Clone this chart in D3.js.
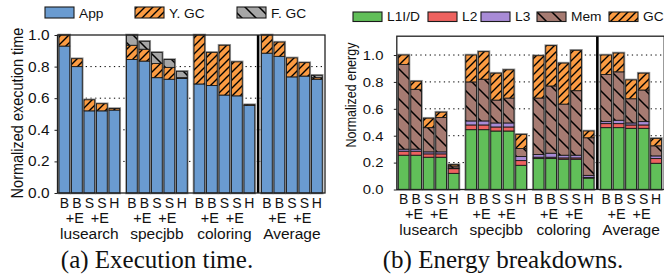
<!DOCTYPE html>
<html><head><meta charset="utf-8">
<script src="https://cdn.jsdelivr.net/npm/d3@7"></script>
<style>body{margin:0;background:#fff}svg{display:block}</style>
</head><body><svg id="c" width="664" height="276"></svg>
<script>
// ---------------- data ----------------
const groups = ["lusearch", "specjbb", "coloring", "Average"];
const configTop = ["B", "B", "S", "S", "H"];
const configBottom = ["", "+E", "", "+E", ""];
const timeTicks = [0, 0.2, 0.4, 0.6, 0.8, 1.0];
const energyTicks = [0, 0.2, 0.4, 0.6, 0.8, 1.0];

// (a) execution time, 4 groups x 5 configs
const app     = [0.93, 0.80, 0.52, 0.52, 0.525,  0.845, 0.835, 0.73, 0.72, 0.725,  0.69, 0.68, 0.62, 0.615, 0.555,  0.885, 0.865, 0.735, 0.74, 0.72];
const youngGC = [0.07, 0.05, 0.07, 0.045, 0.01,  0.09, 0.075, 0.09, 0.075, 0.005,  0.31, 0.21, 0.315, 0.215, 0.004,  0.115, 0.09, 0.12, 0.085, 0.01];
const fullGC  = [0, 0, 0, 0, 0,                  0.065, 0.05, 0.07, 0.05, 0.04,     0, 0, 0, 0, 0,                  0, 0, 0, 0, 0.015];

// (b) energy breakdowns
const l1  = [0.255, 0.255, 0.24, 0.24, 0.12,  0.445, 0.445, 0.435, 0.435, 0.18,  0.23, 0.23, 0.225, 0.225, 0.085,  0.46, 0.46, 0.455, 0.455, 0.195];
const l2  = [0.03, 0.03, 0.025, 0.025, 0.035, 0.035, 0.035, 0.03, 0.03, 0.035,   0.01, 0.01, 0.01, 0.01, 0.005,     0.03, 0.03, 0.025, 0.025, 0.035];
const l3  = [0.015, 0.015, 0.015, 0.015, 0.005, 0.03, 0.03, 0.03, 0.03, 0.03,    0.02, 0.03, 0.02, 0.02, 0.015,     0.015, 0.025, 0.015, 0.025, 0.02];
const mem = [0.63, 0.445, 0.18, 0.255, 0.015, 0.29, 0.31, 0.17, 0.185, 0.06,     0.42, 0.5, 0.38, 0.48, 0.28,       0.35, 0.36, 0.18, 0.235, 0.075];
const gc  = [0.07, 0.06, 0.07, 0.04, 0.01,    0.2, 0.205, 0.2, 0.21, 0.105,      0.315, 0.3, 0.305, 0.3, 0.05,      0.145, 0.14, 0.14, 0.125, 0.055];

// ---------------- setup ----------------
const svg = d3.select("#c");
const FONT = "'Liberation Sans', Arial, Helvetica, sans-serif";
const defs = svg.append("defs");

const COL = {app: "#6a9bd0", orange: "#fb9b42", gray: "#a6a6a6", green: "#61bf59", red: "#ee625f", purple: "#a88bd6", brown: "#a67b72"};

function fwdPattern(id, bg, s) {
  const p = defs.append("pattern").attr("id", id).attr("patternUnits", "userSpaceOnUse")
    .attr("width", s).attr("height", s);
  p.append("rect").attr("width", s).attr("height", s).attr("fill", bg);
  p.append("path").attr("d", `M-1,${s+1} L${s+1},-1 M-1,1 L1,-1 M${s-1},${s+1} L${s+1},${s-1}`)
    .attr("stroke", "#000").attr("stroke-width", 1.4);
}
function backPattern(id, bg, s) {
  const p = defs.append("pattern").attr("id", id).attr("patternUnits", "userSpaceOnUse")
    .attr("width", s).attr("height", s);
  p.append("rect").attr("width", s).attr("height", s).attr("fill", bg);
  p.append("path").attr("d", `M-1,-1 L${s+1},${s+1} M-1,${s-1} L1,${s+1} M${s-1},-1 L${s+1},1`)
    .attr("stroke", "#000").attr("stroke-width", 1.5);
}
fwdPattern("hOrange", COL.orange, 8);
backPattern("hGray", COL.gray, 14);
backPattern("hBrown", COL.brown, 15);

function text(g, x, y, s, size, anchor, sx) {
  return g.append("text").attr("transform", `translate(${x},${y}) scale(${sx || 1.08},1)`)
    .attr("font-family", FONT).attr("font-size", size).attr("text-anchor", anchor || "start")
    .attr("fill", "#111").text(s);
}

function makeRows(keys, arrays) {
  const rows = [];
  groups.forEach((gName, g) => {
    for (let i = 0; i < 5; i++) {
      const r = {g, i, pos: g * 5.4 + i};
      keys.forEach((k, ki) => r[k] = arrays[ki][g * 5 + i]);
      rows.push(r);
    }
  });
  return rows;
}

function drawChart(cfg) {
  const g = svg.append("g");
  const x = d3.scaleLinear().domain([-0.55, 20.85]).range([cfg.x0, cfg.x1]);
  const y = d3.scaleLinear().domain([0, cfg.ymax]).range([cfg.yb, cfg.yt]);
  const rows = makeRows(cfg.keys, cfg.arrays);
  const stack = d3.stack().keys(cfg.keys)(rows);
  const bw = 0.86 * (x(1) - x(0));

  // grid
  g.append("g").selectAll("line").data(cfg.ticks.filter(t => t > 0 && y(t) > cfg.yt + 2))
    .join("line").attr("x1", cfg.x0).attr("x2", cfg.x1).attr("y1", d => y(d)).attr("y2", d => y(d))
    .attr("stroke", "#000").attr("stroke-width", 1).attr("stroke-dasharray", "1.3,3.4");

  // outlines
  const totals = rows.map(r => cfg.keys.reduce((s, k) => s + r[k], 0));
  g.append("g").selectAll("rect").data(rows).join("rect")
    .attr("x", d => x(d.pos) - bw / 2).attr("width", bw)
    .attr("y", (d, i) => y(totals[i])).attr("height", (d, i) => y(0) - y(totals[i]))
    .attr("fill", "none").attr("stroke", "#9a9a9a").attr("stroke-width", 2.6);

  // stacked segments
  g.append("g").selectAll("g").data(stack).join("g")
    .attr("fill", (d, i) => cfg.fills[i])
    .selectAll("rect").data(d => d.filter(s => s[1] - s[0] > 0)).join("rect")
    .attr("x", d => x(d.data.pos) - bw / 2).attr("width", bw)
    .attr("y", d => y(d[1])).attr("height", d => y(d[0]) - y(d[1]))
    .attr("stroke", "#1a1a1a").attr("stroke-width", 0.9);

  // separator before Average
  const sep = x((2 * 5.4 + 4 + 3 * 5.4) / 2);
  g.append("line").attr("x1", sep).attr("x2", sep).attr("y1", cfg.yt).attr("y2", cfg.yb)
    .attr("stroke", "#000").attr("stroke-width", 2.6);

  // frame
  g.append("rect").attr("x", cfg.x0).attr("y", cfg.yt).attr("width", cfg.x1 - cfg.x0).attr("height", cfg.yb - cfg.yt)
    .attr("fill", "none").attr("stroke", "#222").attr("stroke-width", 1.3);

  // y axis ticks
  const ax = g.append("g").attr("transform", `translate(${cfg.x0},0)`)
    .call(d3.axisLeft(y).tickValues(cfg.ticks).tickSize(3).tickFormat(""));
  ax.select(".domain").remove();
  ax.selectAll("line").attr("stroke", "#222");
  cfg.ticks.forEach(t => text(g, cfg.tickX, y(t) + cfg.tickSize * 0.36, d3.format(".1f")(t), cfg.tickSize, "end", 1.1));

  // y label
  g.append("text").attr("transform", `translate(${cfg.ylabX},${cfg.ylabY}) scale(1.1,1) rotate(-90)`)
    .attr("font-family", FONT).attr("font-size", cfg.ylabSize).attr("text-anchor", "middle").attr("fill", "#111")
    .text(cfg.ylabel);

  // x labels
  rows.forEach(r => {
    text(g, x(r.pos), cfg.row1, configTop[r.i], 14, "middle", 1.0);
    if (configBottom[r.i]) text(g, x(r.pos) - 2, cfg.row2, configBottom[r.i], 14.5, "middle", 1.0);
  });
  groups.forEach((n, gi) => text(g, x(gi * 5.4 + 2), cfg.row3, n, 15.5, "middle", 1.0));

  // caption
  g.append("text").attr("x", cfg.capX).attr("y", 268)
    .attr("font-family", "'Liberation Serif', 'Times New Roman', serif").attr("font-size", 25)
    .attr("text-anchor", "middle").attr("fill", "#111").text(cfg.caption);

  // legend
  cfg.legend.forEach(l => {
    g.append("rect").attr("x", l.x).attr("y", cfg.legY).attr("width", l.w || 29).attr("height", cfg.legH)
      .attr("fill", l.fill).attr("stroke", "#1a1a1a").attr("stroke-width", 1.1);
    text(g, l.x + (l.w || 29) + 5, cfg.legY + cfg.legH - 0.3, l.name, 13.5, "start", 1.02);
  });
}

drawChart({
  x0: 57.5, x1: 325, yb: 193, yt: 35, ymax: 1.0, ticks: timeTicks,
  keys: ["App", "YGC", "FGC"], arrays: [app, youngGC, fullGC],
  fills: [COL.app, "url(#hOrange)", "url(#hGray)"],
  tickX: 49.5, tickSize: 14, ylabX: 23, ylabY: 113, ylabSize: 14.5, ylabel: "Normalized execution time",
  row1: 208, row2: 223, row3: 238.5, capX: 157, caption: "(a) Execution time.",
  legY: 7, legH: 11,
  legend: [{x: 45, fill: COL.app, name: "App"}, {x: 135, fill: "url(#hOrange)", name: "Y. GC"}, {x: 237, fill: "url(#hGray)", name: "F. GC"}]
});

drawChart({
  x0: 396.8, x1: 664.2, yb: 189.5, yt: 36.2, ymax: 1.14, ticks: energyTicks,
  keys: ["L1", "L2", "L3", "Mem", "GC"], arrays: [l1, l2, l3, mem, gc],
  fills: [COL.green, COL.red, COL.purple, "url(#hBrown)", "url(#hOrange)"],
  tickX: 383.5, tickSize: 13.5, ylabX: 356, ylabY: 95, ylabSize: 12.5, ylabel: "Normalized energy",
  row1: 204, row2: 219, row3: 235, capX: 503, caption: "(b) Energy breakdowns.",
  legY: 12, legH: 9.5,
  legend: [{x: 353, fill: COL.green, name: "L1I/D"}, {x: 428, fill: COL.red, name: "L2"}, {x: 481, fill: COL.purple, name: "L3"},
           {x: 537, fill: "url(#hBrown)", name: "Mem"}, {x: 609, fill: "url(#hOrange)", name: "GC"}]
});
</script></body></html>
